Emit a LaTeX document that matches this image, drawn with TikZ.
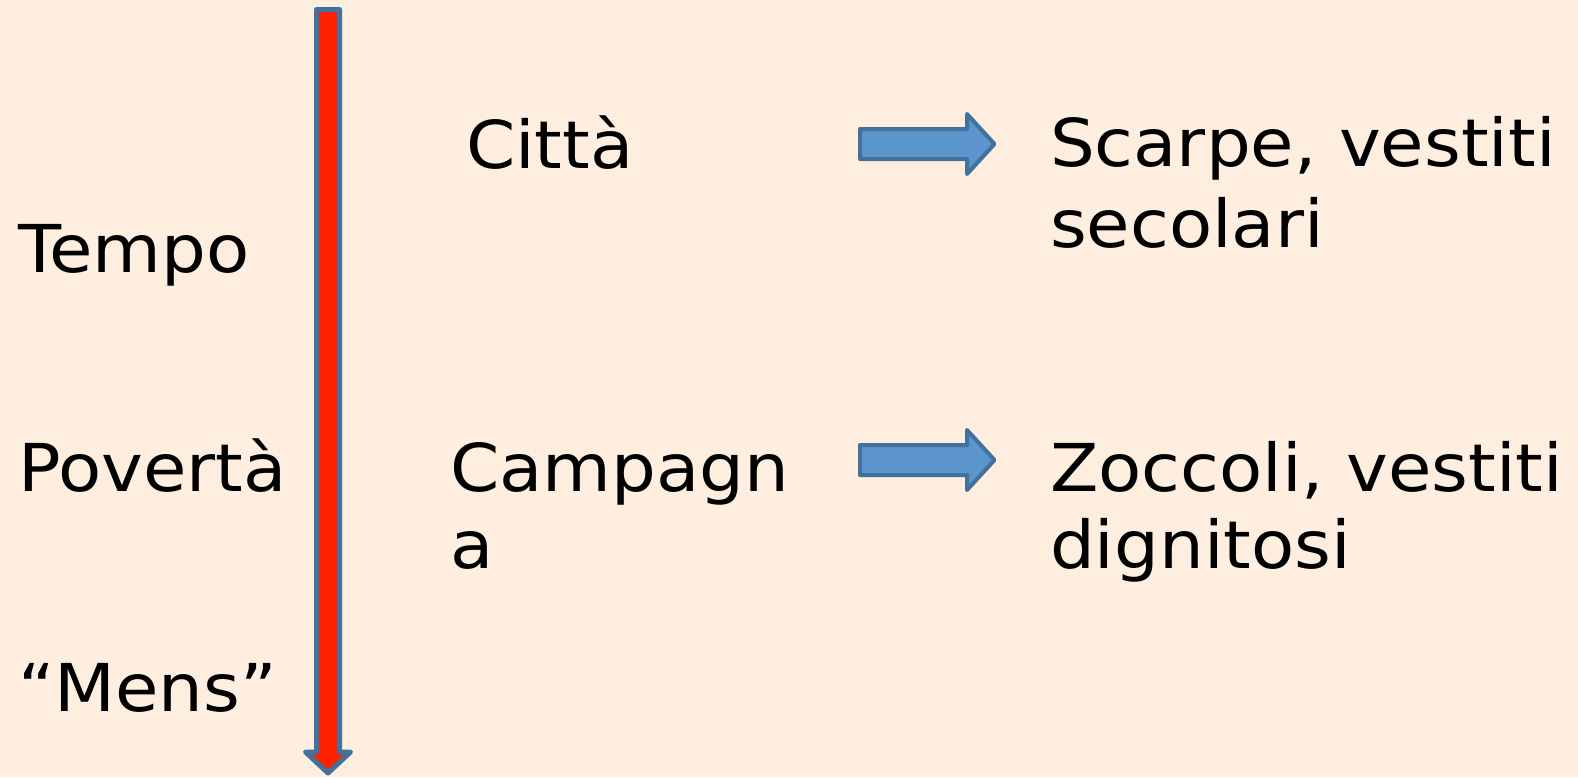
\documentclass[tikz,border=0pt]{standalone}
\usepackage{fontspec}
\setmainfont[FakeStretch=1.07]{DejaVu Sans}
\definecolor{bg}{HTML}{FDEEDF}
\definecolor{redfill}{HTML}{FF2200}
\definecolor{bluefill}{HTML}{5B95CB}
\definecolor{blueline}{HTML}{41719C}
\tikzset{
  lbl/.style={anchor=base west, inner sep=0pt, outer sep=0pt, font=\fontsize{66}{79}\selectfont, text=black},
  timearrow/.style={fill=redfill, draw=blueline, line width=5pt, line join=round},
  blockarrow/.style={fill=bluefill, draw=blueline, line width=4pt, line join=round},
}
\begin{document}
\begin{tikzpicture}[x=1pt,y=-1pt]
\fill[bg] (0,0) rectangle (1578,777);
\useasboundingbox (0,0) rectangle (1578,777);
% vertical time arrow
\draw[timearrow] (316.5,9.5) -- (339.5,9.5) -- (339.5,752) -- (350.5,752) -- (328,773) -- (305.5,752) -- (316.5,752) -- cycle;
% block arrows
\draw[blockarrow] (860,129) -- (967,129) -- (967,114) -- (994.5,144) -- (967,174) -- (967,159) -- (860,159) -- cycle;
\draw[blockarrow] (860,445) -- (967,445) -- (967,430) -- (994.5,460) -- (967,490) -- (967,475) -- (860,475) -- cycle;
% labels
\node[lbl] (tempo) at (18,272) {Tempo};
\node[lbl] (poverta) at (18,491) {Povertà};
\node[lbl] (mens) at (18,711) {“Mens”};
\node[lbl] (citta) at (466,168) {Città};
\node[lbl] (campagn) at (450,491) {Campagn};
\node[lbl] (campa) at (450,568) {a};
\node[lbl] (scarpe) at (1050,166) {Scarpe, vestiti};
\node[lbl] (secolari) at (1050,247) {secolari};
\node[lbl] (zoccoli) at (1050,491) {Zoccoli, vestiti};
\node[lbl] (dignitosi) at (1050,568) {dignitosi};
\end{tikzpicture}
\end{document}
